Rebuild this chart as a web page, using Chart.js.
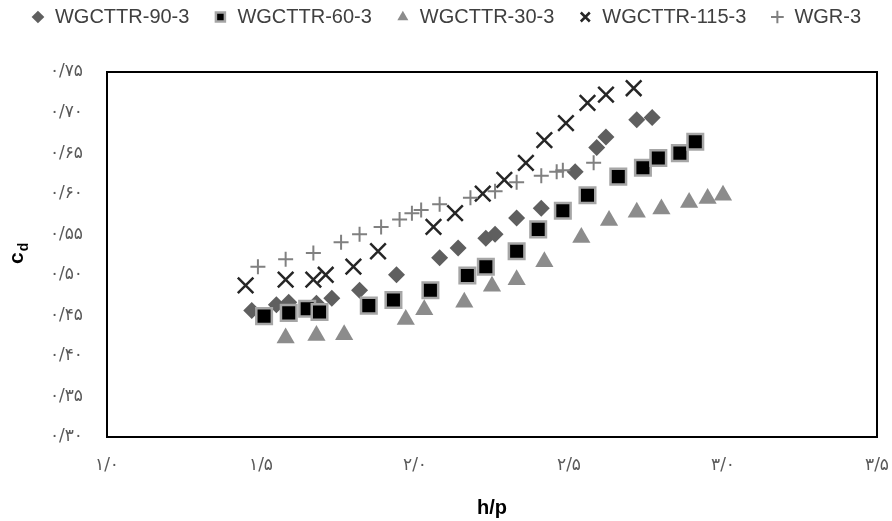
<!DOCTYPE html>
<html><head><meta charset="utf-8">
<script src="https://cdn.jsdelivr.net/npm/chart.js@4.4.0/dist/chart.umd.min.js"></script>
<style>html,body{margin:0;padding:0;background:#fff}#wrap{width:892px;height:521px;position:relative}</style>
</head><body><div id="wrap"><canvas id="c"></canvas></div>
<script>
const seriesNames = ['WGCTTR-90-3','WGCTTR-60-3','WGCTTR-30-3','WGCTTR-115-3','WGR-3'];
const x90 = [1.47,1.55,1.59,1.68,1.73,1.82,1.94,2.08,2.14,2.23,2.26,2.33,2.41,2.52,2.59,2.62,2.72,2.77];
const y90 = [0.456,0.463,0.466,0.465,0.471,0.481,0.500,0.521,0.533,0.545,0.550,0.570,0.582,0.627,0.657,0.670,0.691,0.694];
const x60 = [1.51,1.59,1.65,1.69,1.85,1.93,2.05,2.17,2.23,2.33,2.40,2.48,2.56,2.66,2.74,2.79,2.86,2.91];
const y60 = [0.449,0.453,0.458,0.454,0.462,0.469,0.481,0.499,0.510,0.529,0.556,0.579,0.598,0.621,0.632,0.644,0.650,0.664];
const x30 = [1.58,1.68,1.77,1.97,2.03,2.16,2.25,2.33,2.42,2.54,2.63,2.72,2.80,2.89,2.95,3.00];
const y30 = [0.422,0.425,0.426,0.445,0.457,0.466,0.486,0.494,0.516,0.546,0.567,0.577,0.581,0.589,0.594,0.598];
const x115 = [1.45,1.58,1.67,1.71,1.80,1.88,2.06,2.13,2.22,2.29,2.36,2.42,2.49,2.56,2.62,2.71];
const y115 = [0.487,0.494,0.494,0.500,0.510,0.529,0.559,0.576,0.600,0.617,0.638,0.666,0.687,0.712,0.722,0.730];
const xWGR = [1.49,1.58,1.67,1.76,1.82,1.89,1.95,1.99,2.02,2.08,2.18,2.26,2.33,2.41,2.46,2.48,2.58];
const yWGR = [0.510,0.519,0.527,0.540,0.550,0.559,0.568,0.576,0.580,0.587,0.595,0.603,0.614,0.622,0.627,0.629,0.638];
const xTicks = [1.0,1.5,2.0,2.5,3.0,3.5];
const yTicks = [0.30,0.35,0.40,0.45,0.50,0.55,0.60,0.65,0.70,0.75];

const faDigits = ['۰','۱','۲','۳','۴','۵','۶','۷','۸','۹'];
const toFa = s => s.replace(/[0-9]/g, d => faDigits[+d]).replace('.', '/');
const pts = (xs, ys) => xs.map((x, i) => ({x, y: ys[i]}));

const frame = {
  id: 'frame',
  beforeDatasetsDraw(chart) {
    const {ctx, chartArea: a} = chart;
    ctx.save();
    ctx.strokeStyle = '#000';
    ctx.lineWidth = 2;
    ctx.strokeRect(a.left, a.top, a.right - a.left, a.bottom - a.top);
    ctx.restore();
  },
  afterDraw(chart) {
    const {ctx} = chart;
    ctx.save();
    ctx.translate(23, 264);
    ctx.rotate(-Math.PI / 2);
    ctx.fillStyle = '#000';
    ctx.textBaseline = 'alphabetic';
    ctx.font = 'bold 21px "Liberation Sans", Arial, sans-serif';
    ctx.fillText('c', 0, 0);
    const w = ctx.measureText('c').width;
    ctx.font = 'bold 14px "Liberation Sans", Arial, sans-serif';
    ctx.fillText('d', w + 1, 5);
    ctx.restore();
  }
};

new Chart(document.getElementById('c'), {
  type: 'scatter',
  data: {
    datasets: [
      {label: seriesNames[0], data: pts(x90, y90), pointStyle: 'rectRot', pointRadius: 8.5, pointHoverRadius: 8.5,
       backgroundColor: '#5f5f5f', borderColor: '#5f5f5f', borderWidth: 0, order: 5},
      {label: seriesNames[1], data: pts(x60, y60), pointStyle: 'rect', pointRadius: 11, pointHoverRadius: 11,
       backgroundColor: '#000000', borderColor: '#a6a6a6', borderWidth: 2.5, order: 4},
      {label: seriesNames[2], data: pts(x30, y30), pointStyle: 'triangle', pointRadius: 10.5, pointHoverRadius: 10.5,
       backgroundColor: '#8c8c8c', borderColor: '#8c8c8c', borderWidth: 0, order: 3},
      {label: seriesNames[3], data: pts(x115, y115), pointStyle: 'crossRot', pointRadius: 11, pointHoverRadius: 11,
       backgroundColor: '#262626', borderColor: '#262626', borderWidth: 2.5, order: 2},
      {label: seriesNames[4], data: pts(xWGR, yWGR), pointStyle: 'cross', pointRadius: 7.5, pointHoverRadius: 7.5,
       backgroundColor: '#808080', borderColor: '#808080', borderWidth: 2, order: 1}
    ]
  },
  options: {
    responsive: true,
    maintainAspectRatio: false,
    animation: false,
    layout: {padding: {top: -17, right: 0, left: 0, bottom: 0}},
    plugins: {
      tooltip: {enabled: false},
      legend: {
        position: 'top',
        weight: 3000,
        labels: {
          usePointStyle: true,
          boxWidth: 14,
          boxHeight: 9,
          padding: 24,
          color: '#404040',
          font: {family: '"Liberation Sans", Arial, sans-serif', size: 20},
          sort: (a, b) => a.datasetIndex - b.datasetIndex
        }
      },
      subtitle: {
        display: true,
        text: ' ',
        font: {size: 10},
        padding: {top: 0, bottom: 23}
      }
    },
    scales: {
      x: {
        type: 'linear', min: 1.0, max: 3.5,
        afterBuildTicks: ax => { ax.ticks = xTicks.map(v => ({value: v})); },
        afterFit: ax => { ax.height = 84; ax.paddingRight = 15; ax.paddingLeft = 0; },
        grid: {display: false}, border: {display: false},
        ticks: {padding: 10, color: '#595959', font: {family: '"DejaVu Sans", sans-serif', size: 17},
                callback: v => toFa(Number(v).toFixed(1))},
        title: {display: true, text: 'h/p', color: '#000', padding: {top: 0, bottom: 1},
                font: {family: '"Liberation Sans", Arial, sans-serif', size: 20, weight: 'bold'}}
      },
      y: {
        type: 'linear', min: 0.30, max: 0.75,
        afterBuildTicks: ax => { ax.ticks = yTicks.map(v => ({value: v})); },
        afterFit: ax => { ax.width = 107; },
        grid: {display: false}, border: {display: false},
        ticks: {padding: 16, color: '#595959', font: {family: '"DejaVu Sans", sans-serif', size: 17},
                callback: v => toFa(Number(v).toFixed(2))}
      }
    }
  },
  plugins: [frame]
});
</script></body></html>
